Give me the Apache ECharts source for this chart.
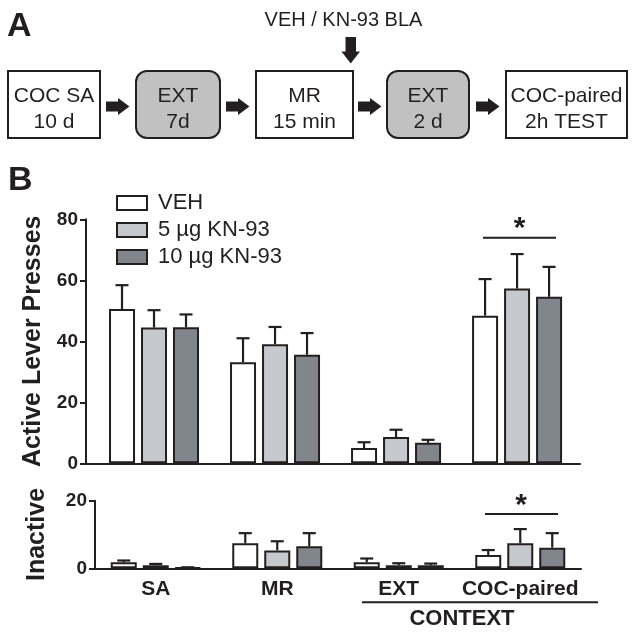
<!DOCTYPE html>
<html><head><meta charset="utf-8">
<script src="https://cdn.jsdelivr.net/npm/echarts@6/dist/echarts.min.js"></script>
<style>html,body{margin:0;padding:0;background:#fff}#c{width:637px;height:637px}</style>
</head><body><div id="c"></div>
<script>
// ---- data ----
const categories = ['SA', 'MR', 'EXT', 'COC-paired'];
const seriesNames = ['VEH', '5 µg KN-93', '10 µg KN-93'];
const activeVEH = [50.6, 33.1, 5.0, 48.4];
const activeVEHErr = [7.8, 7.9, 1.9, 12.0];
const active5 = [44.5, 39.0, 8.6, 57.3];
const active5Err = [5.7, 5.7, 2.4, 11.3];
const active10 = [44.6, 35.6, 6.7, 54.6];
const active10Err = [4.2, 7.1, 1.0, 9.8];
const inactiveVEH = [1.8, 7.4, 1.8, 3.9];
const inactiveVEHErr = [0.5, 3.0, 1.1, 1.5];
const inactive5 = [0.9, 5.3, 0.9, 7.4];
const inactive5Err = [0.4, 2.7, 0.6, 4.2];
const inactive10 = [0.2, 6.5, 0.9, 6.1];
const inactive10Err = [0.1, 3.9, 0.5, 4.3];
const activeTicks = [0, 20, 40, 60, 80];
const inactiveTicks = [0, 20];
const flowSteps = [['COC SA', '10 d'], ['EXT', '7d'], ['MR', '15 min'], ['EXT', '2 d'], ['COC-paired', '2h TEST']];
const injectionLabel = 'VEH / KN-93 BLA';
const contextLabel = 'CONTEXT';
const activeTitle = 'Active Lever Presses';
const inactiveTitle = 'Inactive';
const sigMark = '*';

// ---- styles ----
const ink = '#231f20';
const fills = ['#ffffff', '#c5c8cc', '#80868b'];
const font = '"Liberation Sans", Arial, sans-serif';
const barW = 26, barGapPx = 6;

const activeMeans = [activeVEH, active5, active10];
const activeErrs = [activeVEHErr, active5Err, active10Err];
const inactiveMeans = [inactiveVEH, inactive5, inactive10];
const inactiveErrs = [inactiveVEHErr, inactive5Err, inactive10Err];

function errSeries(axisIdx, means, errs, s) {
  return {
    type: 'custom', xAxisIndex: axisIdx, yAxisIndex: axisIdx, z: 5, silent: true,
    data: means.map((m, i) => [i, m, errs[i]]),
    renderItem(params, api) {
      const i = api.value(0), m = api.value(1), e = api.value(2);
      const base = api.coord([i, m]);
      const top = api.coord([i, m + e]);
      const x = base[0] + (s - 1) * (barW + barGapPx);
      return {
        type: 'group', children: [
          { type: 'line', shape: { x1: x, y1: base[1], x2: x, y2: top[1] }, style: { stroke: ink, lineWidth: 2.2 } },
          { type: 'line', shape: { x1: x - 6.5, y1: top[1], x2: x + 6.5, y2: top[1] }, style: { stroke: ink, lineWidth: 2.2 } }
        ]
      };
    }
  };
}

const series = [];
for (let s = 0; s < 3; s++) {
  series.push({
    name: seriesNames[s], type: 'bar', xAxisIndex: 0, yAxisIndex: 0,
    data: activeMeans[s].map((v, i) => [i, v]),
    barWidth: barW, barGap: (barGapPx / barW * 100) + '%',
    itemStyle: { color: fills[s], borderColor: ink, borderWidth: 2 }
  });
  series.push({
    name: seriesNames[s], type: 'bar', xAxisIndex: 1, yAxisIndex: 1,
    data: inactiveMeans[s],
    barWidth: barW, barGap: (barGapPx / barW * 100) + '%',
    itemStyle: { color: fills[s], borderColor: ink, borderWidth: 2 }
  });
}
for (let s = 0; s < 3; s++) {
  series.push(errSeries(0, activeMeans[s], activeErrs[s], s));
  series.push(errSeries(1, inactiveMeans[s], inactiveErrs[s], s));
}

const axisLineStyle = { show: true, onZero: false, lineStyle: { color: ink, width: 2 } };
const yTick = { show: true, length: 6, lineStyle: { color: ink, width: 2 } };
const yLabel = { color: ink, fontFamily: font, fontWeight: 'bold', fontSize: 19, margin: 8 };

// ---- flow diagram (panel A) ----
const boxes = [
  { x: 8, w: 92, gray: false },
  { x: 136, w: 84, gray: true },
  { x: 256, w: 97, gray: false },
  { x: 387, w: 82, gray: true },
  { x: 506, w: 121, gray: false }
];
const graphic = [];
graphic.push({ type: 'text', left: 7, top: 10, style: { text: 'A', font: 'bold 34px ' + font, fill: ink } });
graphic.push({ type: 'text', left: 8, top: 164, style: { text: 'B', font: 'bold 34px ' + font, fill: ink } });
boxes.forEach((b, k) => {
  graphic.push({
    type: 'rect', shape: { x: b.x, y: 71, width: b.w, height: 67, r: b.gray ? 11 : 0 },
    style: { fill: b.gray ? '#c1c1c1' : '#ffffff', stroke: ink, lineWidth: 2 }
  });
  graphic.push({ type: 'text', x: b.x + b.w / 2, y: 96, style: { text: flowSteps[k][0], font: '21px ' + font, fill: ink, textAlign: 'center', textVerticalAlign: 'middle' } });
  graphic.push({ type: 'text', x: b.x + b.w / 2, y: 122, style: { text: flowSteps[k][1], font: '21px ' + font, fill: ink, textAlign: 'center', textVerticalAlign: 'middle' } });
});
// right arrows between boxes
[106, 226, 358, 476].forEach(x0 => {
  graphic.push({
    type: 'polygon',
    shape: { points: [[x0, 101.5], [x0 + 12, 101.5], [x0 + 12, 98], [x0 + 23.5, 106.5], [x0 + 12, 115], [x0 + 12, 111.5], [x0, 111.5]] },
    style: { fill: ink }
  });
});
// down arrow
graphic.push({
  type: 'polygon',
  shape: { points: [[345.5, 37], [356, 37], [356, 51.5], [360, 51.5], [350.7, 63.5], [341.5, 51.5], [345.5, 51.5]] },
  style: { fill: ink }
});
graphic.push({ type: 'text', x: 343.5, y: 20, style: { text: injectionLabel, font: '20px ' + font, fill: ink, textAlign: 'center', textVerticalAlign: 'middle' } });

// significance annotations
graphic.push({ type: 'line', shape: { x1: 483, y1: 237.7, x2: 556, y2: 237.7 }, style: { stroke: ink, lineWidth: 2 } });
graphic.push({ type: 'text', x: 519.5, y: 229, style: { text: sigMark, font: 'bold 30px ' + font, fill: ink, textAlign: 'center', textVerticalAlign: 'middle' } });
graphic.push({ type: 'line', shape: { x1: 485, y1: 514, x2: 558, y2: 514 }, style: { stroke: ink, lineWidth: 2 } });
graphic.push({ type: 'text', x: 521, y: 506, style: { text: sigMark, font: 'bold 30px ' + font, fill: ink, textAlign: 'center', textVerticalAlign: 'middle' } });
// context grouping
graphic.push({ type: 'line', shape: { x1: 362, y1: 602.3, x2: 598, y2: 602.3 }, style: { stroke: ink, lineWidth: 2 } });
graphic.push({ type: 'text', x: 462, y: 619, style: { text: contextLabel, font: 'bold 22px ' + font, fill: ink, textAlign: 'center', textVerticalAlign: 'middle' } });

const option = {
  animation: false,
  backgroundColor: '#ffffff',
  grid: [
    { left: 86, top: 219.3, width: 494, height: 244 },
    { left: 95, top: 500.7, width: 486, height: 67.6 }
  ],
  xAxis: [
    { type: 'value', gridIndex: 0, min: -0.562, max: 3.52, axisLine: axisLineStyle, axisTick: { show: false }, axisLabel: { show: false }, splitLine: { show: false } },
    { type: 'category', gridIndex: 1, data: categories, axisLine: axisLineStyle, axisTick: { show: false },
      axisLabel: { interval: 0, color: ink, fontFamily: font, fontWeight: 'bold', fontSize: 21, margin: 10 } }
  ],
  yAxis: [
    { type: 'value', gridIndex: 0, min: activeTicks[0], max: activeTicks[activeTicks.length - 1], interval: activeTicks[1] - activeTicks[0],
      axisLine: axisLineStyle, axisTick: yTick, axisLabel: yLabel, splitLine: { show: false },
      name: activeTitle, nameLocation: 'middle', nameRotate: 90, nameGap: 36,
      nameTextStyle: { color: ink, fontFamily: font, fontWeight: 'bold', fontSize: 25 } },
    { type: 'value', gridIndex: 1, min: inactiveTicks[0], max: inactiveTicks[inactiveTicks.length - 1], interval: inactiveTicks[1] - inactiveTicks[0],
      axisLine: axisLineStyle, axisTick: yTick, axisLabel: yLabel, splitLine: { show: false },
      name: inactiveTitle, nameLocation: 'middle', nameRotate: 90, nameGap: 45,
      nameTextStyle: { color: ink, fontFamily: font, fontWeight: 'bold', fontSize: 25 } }
  ],
  legend: {
    data: seriesNames, orient: 'vertical', left: 111, top: 187,
    icon: 'rect', itemWidth: 30, itemHeight: 14, itemGap: 5,
    textStyle: { color: ink, fontFamily: font, fontSize: 22, lineHeight: 20, padding: [0, 0, 0, 6] },
    itemStyle: { borderColor: ink, borderWidth: 2 }
  },
  graphic: graphic,
  series: series
};
const chart = echarts.init(document.getElementById('c'), null, { renderer: 'canvas' });
chart.setOption(option);
</script></body></html>
